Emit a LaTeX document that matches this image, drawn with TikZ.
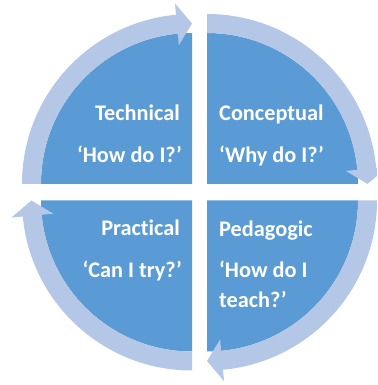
\documentclass[tikz,border=0pt]{standalone}
\usepackage{fontspec}
\setmainfont[Ligatures=NoCommon]{Carlito}
\definecolor{quadblue}{HTML}{5B9BD5}
\definecolor{ringblue}{HTML}{B4C7E7}
\newcommand\cyclequad[3]{%
  \begin{scope}[shift={(#1pt,#2pt)}]
    \fill[quadblue] (0,0) -- ({#3}:151pt) arc[start angle={#3}, end angle={#3-90}, radius=151pt] -- cycle;
    \fill[ringblue] ({#3}:151pt) arc[start angle={#3}, end angle={#3-84.6}, radius=151pt]
      -- ({#3-84.6}:139.5pt) -- ({#3-90}:160.5pt) -- ({#3-84.6}:181.5pt)
      -- ({#3-84.6}:170pt) arc[start angle={#3-84.6}, end angle={#3}, radius=170pt] -- cycle;
  \end{scope}}
\tikzset{lbl/.style={inner sep=0pt, text=white, font=\fontsize{22.3}{26}\selectfont\bfseries}}
\begin{document}
\begin{tikzpicture}
\useasboundingbox (0,0) rectangle (377pt,385pt);
\clip (0,0) rectangle (377pt,385pt);
\cyclequad{192}{201}{180}
\cyclequad{207}{201}{90}
\cyclequad{207}{184.5}{0}
\cyclequad{192}{184.5}{270}
\node[lbl, anchor=base east] (tech) at (180pt,264pt) {Technical};
\node[lbl, anchor=base east] (techq) at (182pt,222pt) {‘How do I?’};
\node[lbl, anchor=base west] (conc) at (219pt,264pt) {Conceptual};
\node[lbl, anchor=base west] (concq) at (219pt,222pt) {‘Why do I?’};
\node[lbl, anchor=base east] (prac) at (180pt,149pt) {Practical};
\node[lbl, anchor=base east] (pracq) at (182pt,107pt) {‘Can I try?’};
\node[lbl, anchor=base west] (peda) at (219pt,148pt) {Pedagogic};
\node[lbl, anchor=base west] (pedaq) at (219pt,107pt) {‘How do I};
\node[lbl, anchor=base west] (pedaq2) at (219pt,77pt) {teach?’};
\end{tikzpicture}
\end{document}
